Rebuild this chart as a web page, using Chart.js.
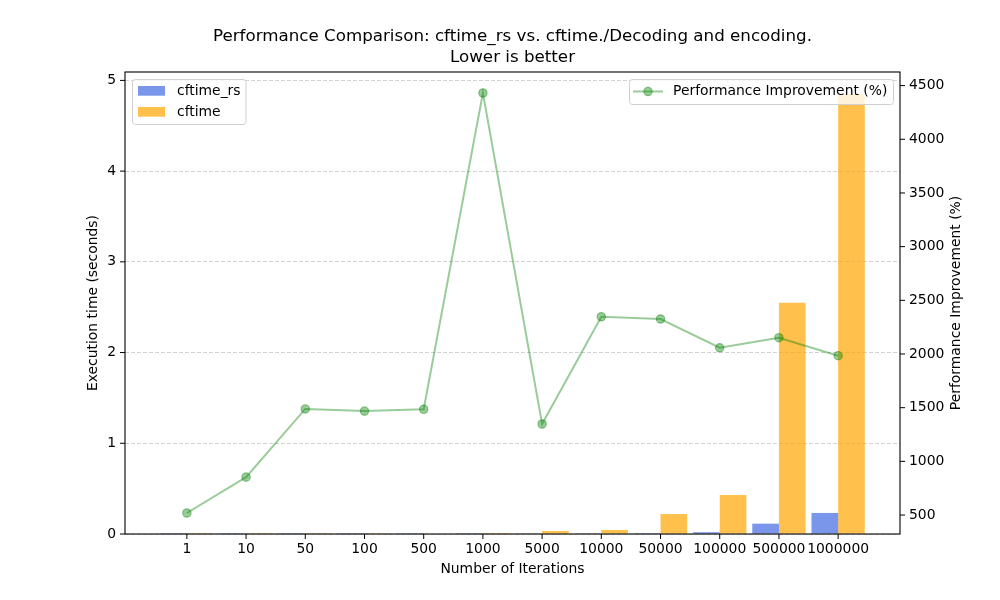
<!DOCTYPE html>
<html><head><meta charset="utf-8">
<script src="https://cdn.jsdelivr.net/npm/chart.js@4.4.1/dist/chart.umd.min.js"></script>
<style>html,body{margin:0;padding:0;background:#fff}#wrap{width:1000px;height:600px;position:relative}</style>
</head><body><div id="wrap"><canvas id="c" width="1000" height="600"></canvas></div>
<script>
const iterations = ['1','10','50','100','500','1000','5000','10000','50000','100000','500000','1000000'];
const cftimeRs = [0.0000028, 0.0000115, 0.000036, 0.00007, 0.00035, 0.00024, 0.0023, 0.0018, 0.0091, 0.020, 0.114, 0.232];
const cftime = [0.00002, 0.00012, 0.0006, 0.0011, 0.0055, 0.011, 0.033, 0.044, 0.22, 0.43, 2.55, 4.85];
const improvement = [519, 853, 1488, 1468, 1485, 4431, 1348, 2347, 2326, 2058, 2152, 1984];
const leftTicks = [0, 1, 2, 3, 4, 5];
const rightTicks = [500, 1000, 1500, 2000, 2500, 3000, 3500, 4000, 4500];

const titleLines = ['Performance Comparison: cftime_rs vs. cftime./Decoding and encoding.', 'Lower is better'];
const xTitle = 'Number of Iterations';
const yTitle = 'Execution time (seconds)';
const y1Title = 'Performance Improvement (%)';

const FONT = '"DejaVu Sans", sans-serif';
const BLUE = 'rgba(65,105,225,0.7)';
const ORANGE = 'rgba(255,165,0,0.7)';
const GREEN = 'rgba(0,128,0,0.4)';

const leftMax = Math.max(...cftime) * 1.05;
const impMin = Math.min(...improvement), impMax = Math.max(...improvement);
const impPad = (impMax - impMin) * 0.05;

function roundRect(ctx, x, y, w, h, r) {
  ctx.beginPath();
  ctx.moveTo(x + r, y);
  ctx.lineTo(x + w - r, y);
  ctx.quadraticCurveTo(x + w, y, x + w, y + r);
  ctx.lineTo(x + w, y + h - r);
  ctx.quadraticCurveTo(x + w, y + h, x + w - r, y + h);
  ctx.lineTo(x + r, y + h);
  ctx.quadraticCurveTo(x, y + h, x, y + h - r);
  ctx.lineTo(x, y + r);
  ctx.quadraticCurveTo(x, y, x + r, y);
  ctx.closePath();
}

const overlay = {
  id: 'overlay',
  afterDraw(chart) {
    const ctx = chart.ctx, a = chart.chartArea;
    const xs = chart.scales.x, ys = chart.scales.y, y1s = chart.scales.y1;
    ctx.save();
    // spines
    ctx.strokeStyle = '#000';
    ctx.lineWidth = 1.1;
    ctx.strokeRect(a.left, a.top, a.right - a.left, a.bottom - a.top);
    // ticks and labels
    ctx.lineWidth = 1;
    ctx.fillStyle = '#000';
    ctx.font = '13.9px ' + FONT;
    ctx.textBaseline = 'middle';
    ctx.textAlign = 'right';
    leftTicks.forEach(v => {
      const py = ys.getPixelForValue(v);
      ctx.beginPath(); ctx.moveTo(a.left - 5, py); ctx.lineTo(a.left, py); ctx.stroke();
      ctx.fillText(String(v), a.left - 9, py);
    });
    ctx.textAlign = 'left';
    rightTicks.forEach(v => {
      const py = y1s.getPixelForValue(v);
      ctx.beginPath(); ctx.moveTo(a.right, py); ctx.lineTo(a.right + 5, py); ctx.stroke();
      ctx.fillText(String(v), a.right + 9, py);
    });
    ctx.textAlign = 'center';
    iterations.forEach((lab, i) => {
      const px = xs.getPixelForValue(i);
      ctx.beginPath(); ctx.moveTo(px, a.bottom); ctx.lineTo(px, a.bottom + 5); ctx.stroke();
      ctx.fillText(lab, px, a.bottom + 15.5);
    });
    // axis titles
    ctx.fillText(xTitle, (a.left + a.right) / 2, a.bottom + 35.5);
    ctx.save();
    ctx.translate(93, (a.top + a.bottom) / 2);
    ctx.rotate(-Math.PI / 2);
    ctx.fillText(yTitle, 0, 0);
    ctx.restore();
    ctx.save();
    ctx.translate(956, (a.top + a.bottom) / 2);
    ctx.rotate(-Math.PI / 2);
    ctx.fillText(y1Title, 0, 0);
    ctx.restore();
    // title
    ctx.font = '16.7px ' + FONT;
    ctx.fillText(titleLines[0], (a.left + a.right) / 2, 37);
    ctx.fillText(titleLines[1], (a.left + a.right) / 2, 58);
    // legend 1
    ctx.font = '13.9px ' + FONT;
    roundRect(ctx, 132.5, 79.5, 113.5, 45, 3);
    ctx.fillStyle = 'rgba(255,255,255,0.8)';
    ctx.fill();
    ctx.strokeStyle = '#d0d0d0';
    ctx.lineWidth = 1;
    ctx.stroke();
    ctx.fillStyle = BLUE;
    ctx.fillRect(138, 86, 27, 9.7);
    ctx.fillStyle = ORANGE;
    ctx.fillRect(138, 107, 27, 9.7);
    ctx.fillStyle = '#000';
    ctx.textAlign = 'left';
    ctx.fillText(chart.data.datasets[0].label, 177, 91);
    ctx.fillText(chart.data.datasets[1].label, 177, 112);
    // legend 2
    roundRect(ctx, 629.5, 79.5, 264, 25, 3);
    ctx.fillStyle = 'rgba(255,255,255,0.8)';
    ctx.fill();
    ctx.strokeStyle = '#d0d0d0';
    ctx.stroke();
    ctx.strokeStyle = GREEN;
    ctx.lineWidth = 2;
    ctx.beginPath(); ctx.moveTo(633, 91.5); ctx.lineTo(663, 91.5); ctx.stroke();
    ctx.beginPath(); ctx.arc(648, 91.5, 4.2, 0, Math.PI * 2);
    ctx.fillStyle = GREEN; ctx.fill();
    ctx.lineWidth = 1.2; ctx.stroke();
    ctx.fillStyle = '#000';
    ctx.fillText(chart.data.datasets[2].label, 673, 91);
    ctx.restore();
  }
};

new Chart(document.getElementById('c'), {
  data: {
    datasets: [
      { type: 'bar', label: 'cftime_rs', data: iterations.map((_, i) => ({ x: i, y: cftimeRs[i] })),
        backgroundColor: BLUE, yAxisID: 'y', xAxisID: 'x', order: 2, categoryPercentage: 0.9, barPercentage: 1.0, borderWidth: 0 },
      { type: 'bar', label: 'cftime', data: iterations.map((_, i) => ({ x: i, y: cftime[i] })),
        backgroundColor: ORANGE, yAxisID: 'y', xAxisID: 'x', order: 2, categoryPercentage: 0.9, barPercentage: 1.0, borderWidth: 0 },
      { type: 'line', label: 'Performance Improvement (%)', data: iterations.map((_, i) => ({ x: i, y: improvement[i] })),
        yAxisID: 'y1', xAxisID: 'x', order: 0, borderColor: GREEN, borderWidth: 2, tension: 0, fill: false,
        pointRadius: 4.2, pointBackgroundColor: GREEN, pointBorderColor: GREEN, pointBorderWidth: 1.2 }
    ]
  },
  options: {
    responsive: false, animation: false, events: [],
    layout: { padding: { top: 72, left: 0, right: 0, bottom: 0 } },
    plugins: { legend: { display: false }, tooltip: { enabled: false }, title: { display: false } },
    scales: {
      x: { type: 'linear', position: 'bottom', min: -1.045, max: 12.045, offset: false,
        afterBuildTicks: s => { s.ticks = iterations.map((_, i) => ({ value: i })); },
        afterFit: s => { s.height = 66; },
        ticks: { display: false }, grid: { display: false }, border: { display: false } },
      y: { type: 'linear', position: 'left', min: 0, max: leftMax,
        afterBuildTicks: s => { s.ticks = leftTicks.map(v => ({ value: v })); },
        afterFit: s => { s.width = 125; },
        ticks: { display: false },
        grid: { color: 'rgba(160,160,160,0.6)', lineWidth: 0.8, drawTicks: false },
        border: { display: false, dash: [4, 2] } },
      y1: { type: 'linear', position: 'right', min: impMin - impPad, max: impMax + impPad,
        afterBuildTicks: s => { s.ticks = rightTicks.map(v => ({ value: v })); },
        afterFit: s => { s.width = 100; },
        ticks: { display: false }, grid: { display: false }, border: { display: false } }
    }
  },
  plugins: [overlay]
});
</script>
</body></html>
